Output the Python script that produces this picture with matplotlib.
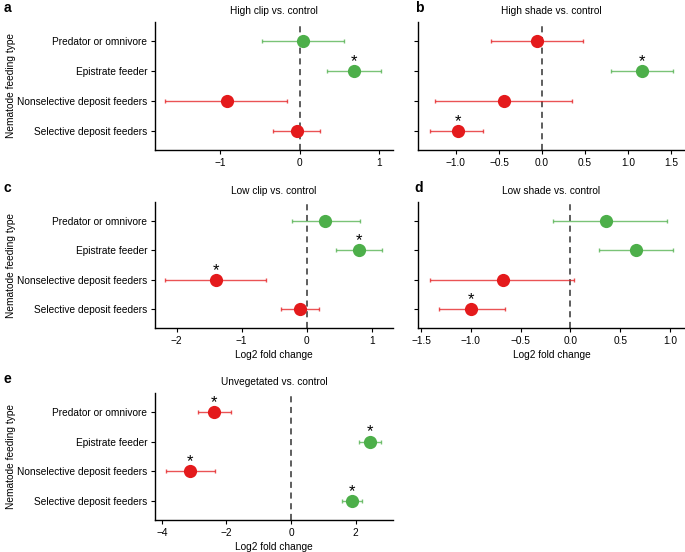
import numpy as np
import matplotlib.pyplot as plt

plt.rcParams['font.family'] = ['Liberation Sans', 'DejaVu Sans']
plt.rcParams['font.size'] = 7.3

# feeding types, bottom to top
categories = ["Selective deposit feeders", "Nonselective deposit feeders",
              "Epistrate feeder", "Predator or omnivore"]

titles = ["High clip vs. control", "High shade vs. control",
          "Low clip vs. control", "Low shade vs. control",
          "Unvegetated vs. control"]
letters = ["a", "b", "c", "d", "e"]

# log2 fold change, CI low, CI high, significant (order as categories)
high_clip = [-0.04, -0.92, 0.68, 0.04]
high_clip_lo = [-0.34, -1.69, 0.34, -0.48]
high_clip_hi = [0.25, -0.16, 1.02, 0.55]
high_clip_sig = [False, False, True, False]

high_shade = [-0.98, -0.44, 1.16, -0.06]
high_shade_lo = [-1.30, -1.24, 0.80, -0.59]
high_shade_hi = [-0.68, 0.35, 1.52, 0.48]
high_shade_sig = [True, False, True, False]

low_clip = [-0.10, -1.39, 0.80, 0.28]
low_clip_lo = [-0.40, -2.17, 0.45, -0.23]
low_clip_hi = [0.19, -0.63, 1.15, 0.81]
low_clip_sig = [False, True, True, False]

low_shade = [-1.00, -0.68, 0.66, 0.36]
low_shade_lo = [-1.32, -1.41, 0.29, -0.17]
low_shade_hi = [-0.66, 0.04, 1.03, 0.97]
low_shade_sig = [True, False, False, False]

unveg = [1.89, -3.12, 2.46, -2.37]
unveg_lo = [1.58, -3.88, 2.12, -2.89]
unveg_hi = [2.20, -2.35, 2.80, -1.85]
unveg_sig = [True, True, True, True]

RED = "#E41A1C"
GREEN = "#4DAF4A"

fig = plt.figure(figsize=(6.85, 5.52), dpi=100)
W, H = 685, 552


def box(l, r, t, b):
    return [l / W, 1 - b / H, (r - l) / W, (b - t) / H]


panels = [
    (box(155, 393, 22, 150), high_clip, high_clip_lo, high_clip_hi, high_clip_sig,
     (-1.82, 1.17), [-1, 0, 1], "%d", True, False),
    (box(418, 685, 22, 150), high_shade, high_shade_lo, high_shade_hi, high_shade_sig,
     (-1.44, 1.66), [-1.0, -0.5, 0.0, 0.5, 1.0, 1.5], "%.1f", False, False),
    (box(155, 393, 202, 328), low_clip, low_clip_lo, low_clip_hi, low_clip_sig,
     (-2.33, 1.32), [-2, -1, 0, 1], "%d", True, True),
    (box(418, 685, 202, 328), low_shade, low_shade_lo, low_shade_hi, low_shade_sig,
     (-1.53, 1.15), [-1.5, -1.0, -0.5, 0.0, 0.5, 1.0], "%.1f", False, True),
    (box(155, 393, 393, 520), unveg, unveg_lo, unveg_hi, unveg_sig,
     (-4.21, 3.16), [-4, -2, 0, 2], "%d", True, True),
]

ypos = np.arange(1, len(categories) + 1)

for i, (rect, vals, lo, hi, sig, xlim, xt, fmt, ylab, xlab) in enumerate(panels):
    ax = fig.add_axes(rect)
    vals = np.array(vals)
    lo = np.array(lo)
    hi = np.array(hi)
    ax.axvline(0, color="#333333", ls=(0, (4, 3)), lw=1.1, zorder=1)
    for y, v, l, h, s in zip(ypos, vals, lo, hi, sig):
        c = GREEN if v > 0 else RED
        ax.errorbar(v, y, xerr=[[v - l], [h - v]], fmt="none", ecolor=c,
                    alpha=0.75, elinewidth=1.0, capsize=1.5, capthick=1.0, zorder=2)
        ax.plot(v, y, "o", color=c, ms=9.5, mec="none", zorder=3)
        if s:
            ax.annotate("*", (v, y), xytext=(0, 1.5), textcoords="offset points",
                        ha="center", va="bottom", fontsize=12)
    ax.set_xlim(*xlim)
    ax.set_ylim(0.37, 4.63)
    ax.set_xticks(xt)
    ax.set_xticklabels([(fmt % t).replace("-", "\u2212") for t in xt])
    ax.set_yticks(ypos)
    if ylab:
        ax.set_yticklabels(categories)
        ax.set_ylabel("Nematode feeding type")
        ax.yaxis.set_label_coords(-0.585, 0.5)
    else:
        ax.set_yticklabels([])
    if xlab:
        ax.set_xlabel("Log2 fold change", labelpad=3)
    for sp in ["top", "right"]:
        ax.spines[sp].set_visible(False)
    for sp in ["left", "bottom"]:
        ax.spines[sp].set_linewidth(1.0)
    ax.tick_params(length=3, width=0.8, pad=2.5)
    ax.set_title(titles[i], fontsize=7.3, pad=6)
    fig.text(rect[0] - (0.221 if ylab else 0.005), rect[1] + rect[3] + 0.025,
             letters[i], fontsize=10, weight="bold", va="center", ha="left")

fig.savefig("out.png", dpi=100)
